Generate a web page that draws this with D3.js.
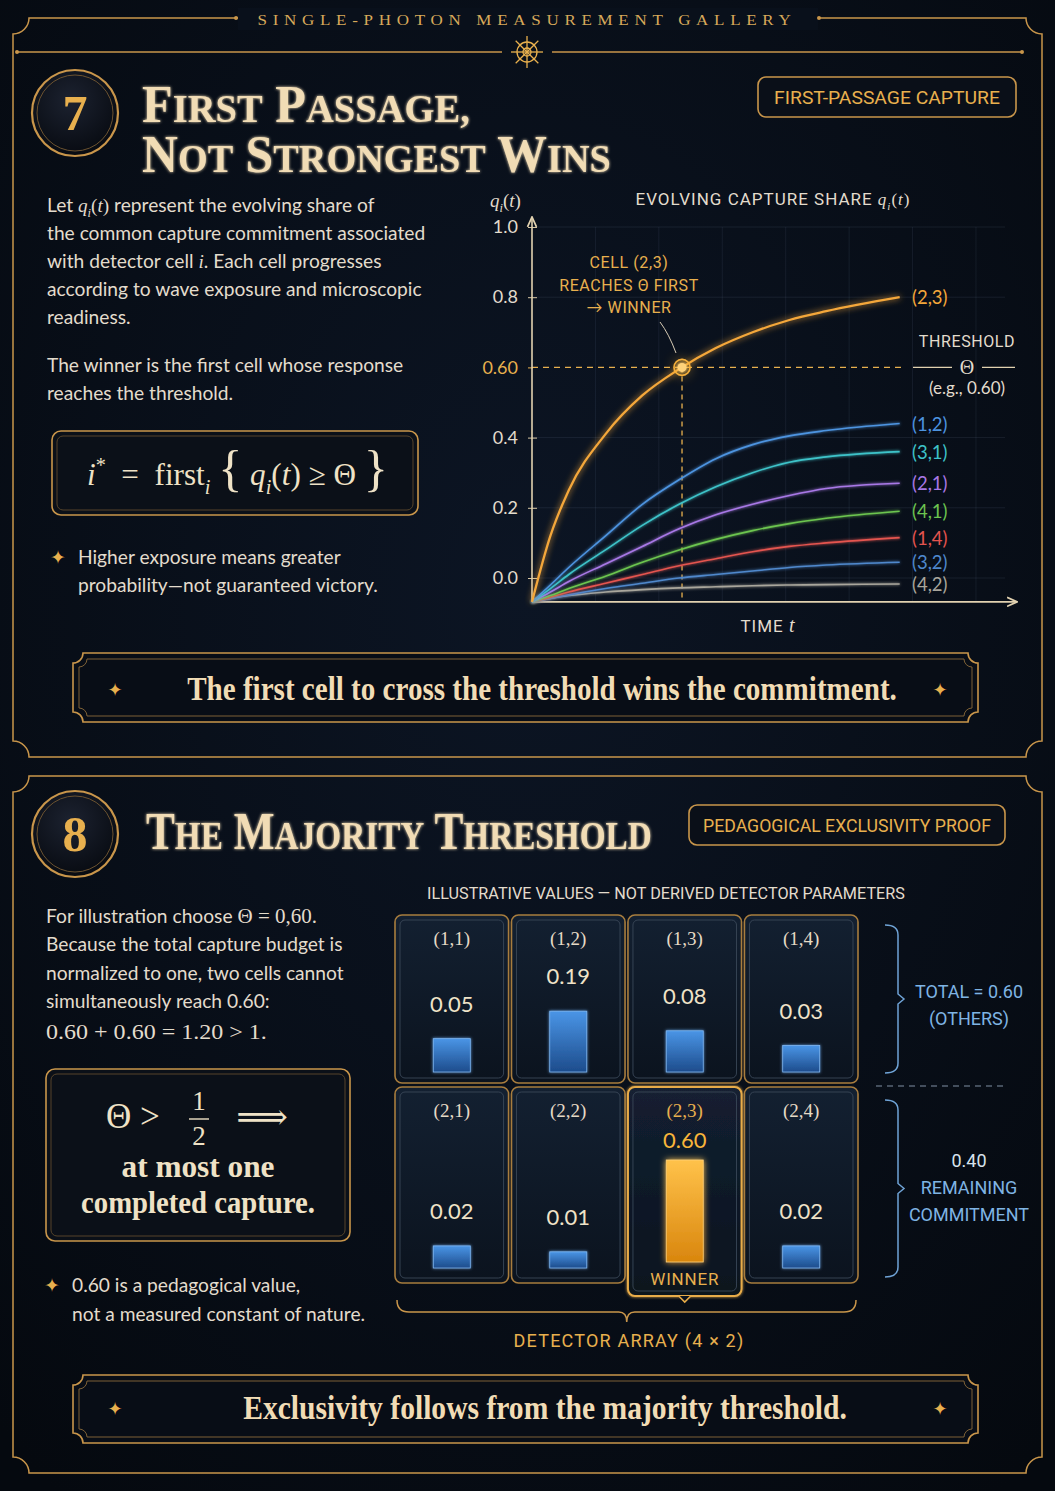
<!DOCTYPE html>
<html>
<head>
<meta charset="utf-8">
<script src="https://cdn.jsdelivr.net/npm/d3@7"></script>
<style>
  html, body { margin: 0; padding: 0; background: #060b14; }
  svg { display: block; }
</style>
</head>
<body>
<svg id="chart" width="1055" height="1491"></svg>
<script>
// ---- data ----
const timeSamples = [0, 0.5, 1, 2, 3, 4, 5, 6, 7, 8, 10];
const seriesNames = ['(2,3)', '(1,2)', '(3,1)', '(2,1)', '(4,1)', '(1,4)', '(3,2)', '(4,2)'];
const seriesColors = ['#f4a73a', '#4d94e0', '#3ec3c9', '#a878e6', '#6cc54f', '#e4544f', '#4f88cc', '#a9a69c'];
const share23 = [-0.068, 0.12, 0.25, 0.41, 0.52, 0.595, 0.655, 0.70, 0.735, 0.76, 0.80];
const share12 = [-0.068, -0.02, 0.03, 0.12, 0.21, 0.28, 0.34, 0.38, 0.405, 0.42, 0.44];
const share31 = [-0.068, -0.03, 0.01, 0.08, 0.15, 0.21, 0.26, 0.30, 0.33, 0.345, 0.36];
const share21 = [-0.068, -0.04, -0.01, 0.04, 0.09, 0.14, 0.18, 0.21, 0.235, 0.255, 0.27];
const share41 = [-0.068, -0.05, -0.03, 0.005, 0.045, 0.08, 0.11, 0.135, 0.155, 0.17, 0.19];
const share14 = [-0.068, -0.055, -0.04, -0.015, 0.01, 0.035, 0.055, 0.075, 0.09, 0.10, 0.115];
const share32 = [-0.068, -0.058, -0.048, -0.03, -0.015, 0.0, 0.01, 0.02, 0.03, 0.037, 0.045];
const share42 = [-0.068, -0.058, -0.05, -0.04, -0.033, -0.028, -0.025, -0.022, -0.02, -0.019, -0.017];
const seriesValues = [share23, share12, share31, share21, share41, share14, share32, share42];
const yTicks = [0, 0.2, 0.4, 0.8, 1.0];
const threshold = 0.60;
const crossTime = 4.08;

const cellRows = [1, 2];
const cellCols = [1, 2, 3, 4];
const cellValues = [[0.05, 0.19, 0.08, 0.03], [0.02, 0.01, 0.60, 0.02]];
const winnerCell = [2, 3];

// ---- styles ----
const SANS = 'Lato, "Open Sans", sans-serif';
const COND = 'Roboto, Lato, sans-serif';
const SERIF = '"Liberation Serif", "DejaVu Serif", serif';
const GOLD = '#c9964b';
const GOLD_TEXT = '#e8b04e';
const CREAM = '#f1dcb5';
const BODY = '#e3dccd';
const BLUE_TEXT = '#7fb4e4';

const svg = d3.select('#chart');
const defs = svg.append('defs');

function glow(id, sd) {
  const f = defs.append('filter').attr('id', id)
    .attr('x', '-50%').attr('y', '-50%').attr('width', '200%').attr('height', '200%');
  f.append('feGaussianBlur').attr('in', 'SourceGraphic').attr('stdDeviation', sd).attr('result', 'b');
  const m = f.append('feMerge');
  m.append('feMergeNode').attr('in', 'b');
  m.append('feMergeNode').attr('in', 'SourceGraphic');
}
glow('glowS', 1.6);
glow('glowM', 3);
glow('glowL', 6);

const bgGrad = defs.append('radialGradient').attr('id', 'bgGrad').attr('cx', '50%').attr('cy', '40%').attr('r', '75%');
bgGrad.append('stop').attr('offset', '0%').attr('stop-color', '#0c1524');
bgGrad.append('stop').attr('offset', '100%').attr('stop-color', '#05090f');

const cellGrad = defs.append('linearGradient').attr('id', 'cellGrad').attr('x1', 0).attr('y1', 0).attr('x2', 0).attr('y2', 1);
cellGrad.append('stop').attr('offset', '0%').attr('stop-color', '#132031');
cellGrad.append('stop').attr('offset', '100%').attr('stop-color', '#0b131e');

const blueGrad = defs.append('linearGradient').attr('id', 'blueGrad').attr('x1', 0).attr('y1', 0).attr('x2', 0).attr('y2', 1);
blueGrad.append('stop').attr('offset', '0%').attr('stop-color', '#4a95e6');
blueGrad.append('stop').attr('offset', '100%').attr('stop-color', '#1d4c8c');

const goldGrad = defs.append('linearGradient').attr('id', 'goldGrad').attr('x1', 0).attr('y1', 0).attr('x2', 0).attr('y2', 1);
goldGrad.append('stop').attr('offset', '0%').attr('stop-color', '#ffc24a');
goldGrad.append('stop').attr('offset', '100%').attr('stop-color', '#d9860e');

const discGrad = defs.append('radialGradient').attr('id', 'discGrad').attr('cx', '45%').attr('cy', '35%').attr('r', '70%');
discGrad.append('stop').attr('offset', '0%').attr('stop-color', '#1c2230');
discGrad.append('stop').attr('offset', '100%').attr('stop-color', '#06090f');

defs.append('marker').attr('id', 'arrow').attr('viewBox', '0 0 10 10').attr('refX', 8).attr('refY', 5)
  .attr('markerWidth', 7).attr('markerHeight', 7).attr('orient', 'auto-start-reverse')
  .append('path').attr('d', 'M0,1 L9,5 L0,9').attr('fill', 'none').attr('stroke', '#e2d2b0').attr('stroke-width', 1.5);

svg.append('rect').attr('width', 1055).attr('height', 1491).attr('fill', 'url(#bgGrad)');

// ---- helpers ----
function notchedRect(x0, y0, x1, y1, r) {
  return `M${x0 + r},${y0} H${x1 - r} A${r},${r} 0 0 0 ${x1},${y0 + r} V${y1 - r} ` +
    `A${r},${r} 0 0 0 ${x1 - r},${y1} H${x0 + r} A${r},${r} 0 0 0 ${x0},${y1 - r} V${y0 + r} ` +
    `A${r},${r} 0 0 0 ${x0 + r},${y0} Z`;
}

// squeeze a text to a given width with a horizontal scale, so its box stays true
function fit(t, x, y, width) {
  t.attr('x', 0).attr('y', 0);
  const natural = t.node().getComputedTextLength() || width;
  t.attr('transform', `translate(${x},${y}) scale(${width / natural},1)`);
  return t;
}

function rich(g, x, y, segs, opts) {
  const t = g.append('text').attr('x', x).attr('y', y)
    .attr('font-family', opts.family || SANS).attr('font-size', opts.size)
    .attr('fill', opts.fill || BODY).attr('text-anchor', opts.anchor || 'start')
    .attr('font-weight', opts.weight || 400)
    .style('white-space', 'pre');
  if (opts.spacing) t.attr('letter-spacing', opts.spacing);
  let shift = 0;
  segs.forEach((s) => {
    const seg = typeof s === 'string' ? { t: s } : s;
    const sp = t.append('tspan').text(seg.t);
    const want = seg.sub ? opts.size * 0.28 : seg.sup ? -opts.size * 0.42 : 0;
    if (want !== shift) { sp.attr('dy', want - shift); shift = want; }
    if (seg.m) sp.attr('font-family', SERIF).attr('font-style', 'italic');
    if (seg.serif) sp.attr('font-family', SERIF);
    if (seg.sub || seg.sup) sp.attr('font-size', opts.size * 0.65);
    if (seg.size) sp.attr('font-size', seg.size);
    if (seg.fill) sp.attr('fill', seg.fill);
  });
  if (opts.width) fit(t, x, y, opts.width);
  return t;
}

function smallCaps(g, words, x, y, big, small, width) {
  const t = g.append('text')
    .attr('font-family', SERIF).attr('font-weight', 700).attr('fill', CREAM)
    .style('white-space', 'pre')
    .attr('filter', 'url(#glowS)');
  words.split(' ').forEach((w, i) => {
    t.append('tspan').attr('font-size', big).text((i ? ' ' : '') + w[0]);
    if (w.length > 1) t.append('tspan').attr('font-size', small).text(w.slice(1).toUpperCase());
  });
  fit(t, x, y, width);
}

function numberDisc(cx, cy, label) {
  const g = svg.append('g');
  g.append('circle').attr('cx', cx).attr('cy', cy).attr('r', 43).attr('fill', 'url(#discGrad)')
    .attr('stroke', GOLD).attr('stroke-width', 2.2);
  g.append('circle').attr('cx', cx).attr('cy', cy).attr('r', 38).attr('fill', 'none')
    .attr('stroke', '#6b5230').attr('stroke-width', 1);
  g.append('text').attr('x', cx).attr('y', cy + 17).attr('text-anchor', 'middle')
    .attr('font-family', SERIF).attr('font-weight', 700).attr('font-size', 50)
    .attr('fill', GOLD_TEXT).text(label);
}

function badge(x, y, w, h, label, tw) {
  svg.append('rect').attr('x', x).attr('y', y).attr('width', w).attr('height', h).attr('rx', 8)
    .attr('fill', '#0a0f18').attr('stroke', GOLD).attr('stroke-width', 1.6);
  const t = svg.append('text').attr('text-anchor', 'middle')
    .attr('font-family', COND).attr('font-size', 19).attr('fill', GOLD_TEXT).text(label);
  fit(t, x + w / 2, y + h / 2 + 7, tw);
}

function mathBox(x, y, w, h) {
  svg.append('rect').attr('x', x).attr('y', y).attr('width', w).attr('height', h).attr('rx', 9)
    .attr('fill', '#0b1018').attr('stroke', GOLD).attr('stroke-width', 1.6);
  svg.append('rect').attr('x', x + 5).attr('y', y + 5).attr('width', w - 10).attr('height', h - 10).attr('rx', 6)
    .attr('fill', 'none').attr('stroke', '#5e4a2c').attr('stroke-width', 0.9);
}

function star(x, y, size) {
  svg.append('text').attr('x', x).attr('y', y).attr('text-anchor', 'middle')
    .attr('dominant-baseline', 'central').attr('font-family', '"DejaVu Sans", sans-serif')
    .attr('font-size', size).attr('fill', GOLD_TEXT).text('\u2726');
}

function banner(x0, y0, x1, y1, label, cx, cy, tw) {
  svg.append('path').attr('d', notchedRect(x0, y0, x1, y1, 10)).attr('fill', '#080d16')
    .attr('stroke', GOLD).attr('stroke-width', 1.6);
  svg.append('path').attr('d', notchedRect(x0 + 6, y0 + 6, x1 - 6, y1 - 6, 8)).attr('fill', 'none')
    .attr('stroke', '#8a6a3a').attr('stroke-width', 0.9);
  const t = svg.append('text').attr('text-anchor', 'middle')
    .attr('font-family', SERIF).attr('font-size', 33).attr('font-weight', 700).attr('fill', CREAM)
    .text(label);
  fit(t, cx, cy + 11, tw);
  star(x0 + 42, cy, 18);
  star(x1 - 38, cy, 18);
}

// ---- frame ----
svg.append('path').attr('d', notchedRect(13, 18, 1042, 757, 16)).attr('fill', 'none')
  .attr('stroke', GOLD).attr('stroke-width', 1.5);
svg.append('path').attr('d', notchedRect(13, 776, 1042, 1473, 16)).attr('fill', 'none')
  .attr('stroke', GOLD).attr('stroke-width', 1.5);
svg.append('rect').attr('x', 238).attr('y', 8).attr('width', 580).attr('height', 22).attr('fill', '#09101b');
svg.append('circle').attr('cx', 236).attr('cy', 18).attr('r', 2).attr('fill', GOLD);
svg.append('circle').attr('cx', 819).attr('cy', 18).attr('r', 2).attr('fill', GOLD);
fit(svg.append('text').attr('text-anchor', 'middle')
  .attr('font-family', SERIF).attr('font-size', 15).attr('fill', '#d7a95a')
  .attr('letter-spacing', 5).text('SINGLE-PHOTON MEASUREMENT GALLERY'), 527, 25, 539);

svg.append('line').attr('x1', 17).attr('x2', 502).attr('y1', 52).attr('y2', 52).attr('stroke', GOLD).attr('stroke-width', 1.4);
svg.append('line').attr('x1', 552).attr('x2', 1022).attr('y1', 52).attr('y2', 52).attr('stroke', GOLD).attr('stroke-width', 1.4);
svg.append('circle').attr('cx', 17).attr('cy', 52).attr('r', 2).attr('fill', GOLD);
svg.append('circle').attr('cx', 1022).attr('cy', 52).attr('r', 2).attr('fill', GOLD);
const emb = svg.append('g').attr('transform', 'translate(527,52)').attr('stroke', GOLD_TEXT).attr('fill', 'none').attr('stroke-width', 1.3);
emb.append('circle').attr('r', 10);
emb.append('circle').attr('r', 4);
d3.range(8).forEach((k) => {
  const a = k * Math.PI / 4;
  emb.append('line').attr('x1', 0).attr('y1', 0).attr('x2', 16 * Math.cos(a)).attr('y2', 16 * Math.sin(a));
});

// ================= PANEL 7 =================
numberDisc(75, 113, '7');
smallCaps(svg, 'First Passage,', 142, 122, 52, 40, 328);
smallCaps(svg, 'Not Strongest Wins', 142, 172, 52, 40, 469);
badge(758, 77, 258, 40, 'FIRST-PASSAGE CAPTURE', 226);
mathBox(52, 431, 366, 84);

const p7 = svg.append('g');
const bodyLines7 = [
  ['Let ', { t: 'q', m: true }, { t: 'i', sub: true, m: true }, { t: '(', serif: true }, { t: 't', m: true }, { t: ')', serif: true }, ' represent the evolving share of'],
  ['the common capture commitment associated'],
  ['with detector cell ', { t: 'i', m: true }, '. Each cell progresses'],
  ['according to wave exposure and microscopic'],
  ['readiness.']
];
bodyLines7.forEach((segs, i) => rich(p7, 47, 212 + i * 28, segs, { size: 19.2 }));
['The winner is the first cell whose response', 'reaches the threshold.']
  .forEach((l, i) => rich(p7, 47, 372 + i * 28, [l], { size: 19.2 }));

rich(p7, 87, 485, [
  { t: 'i', m: true }, { t: '*', sup: true }, '  =  first', { t: 'i', sub: true, m: true }, ' ',
  { t: '{', size: 50 }, ' ', { t: 'q', m: true }, { t: 'i', sub: true, m: true }, '(', { t: 't', m: true },
  ')', ' \u2265 \u0398 ', { t: '}', size: 50 }
], { size: 31, family: SERIF, fill: '#efe2c6', width: 301 });

star(58, 557, 19);
['Higher exposure means greater', 'probability\u2014not guaranteed victory.']
  .forEach((l, i) => rich(p7, 78, 564 + i * 28, [l], { size: 19.2 }));

// ---- first-passage chart ----
const x = d3.scaleLinear().domain([0, 13]).range([532, 1010]);
const y = d3.scaleLinear().domain([0, 1]).range([578, 227]);
const yFloor = -0.068;
const chart = svg.append('g');

const gridT = d3.range(1, 8).map((k) => k * 1.725);
chart.selectAll('line.vg').data(gridT).join('line').attr('class', 'vg')
  .attr('x1', (d) => x(d)).attr('x2', (d) => x(d)).attr('y1', y(1.0)).attr('y2', y(yFloor))
  .attr('stroke', '#8aa0c0').attr('stroke-opacity', 0.1);
chart.selectAll('line.hg').data([0, 0.2, 0.4, 0.8, 1.0]).join('line').attr('class', 'hg')
  .attr('x1', x(0)).attr('x2', 1005).attr('y1', (d) => y(d)).attr('y2', (d) => y(d))
  .attr('stroke', '#8aa0c0').attr('stroke-opacity', 0.12);

const yAxis = d3.axisLeft(y).tickValues(yTicks).tickFormat(d3.format('.1f')).tickSize(5).tickPadding(10);
const ga = chart.append('g').attr('transform', `translate(${x(0) + 1},0)`).call(yAxis);
ga.select('.domain').remove();
ga.selectAll('text').attr('font-family', SANS).attr('font-size', 18).attr('fill', BODY);
ga.selectAll('line').attr('stroke', '#d9c8a5').attr('x2', -5).attr('x1', 4);

const gt = chart.append('g').attr('transform', `translate(${x(0) + 1},0)`)
  .call(d3.axisLeft(y).tickValues([threshold]).tickFormat(d3.format('.2f')).tickSize(5).tickPadding(10));
gt.select('.domain').remove();
gt.selectAll('text').attr('font-family', SANS).attr('font-size', 18).attr('fill', GOLD_TEXT);
gt.selectAll('line').attr('stroke', GOLD_TEXT);

// threshold guides
chart.append('line').attr('x1', x(0)).attr('x2', 902).attr('y1', y(threshold)).attr('y2', y(threshold))
  .attr('stroke', GOLD_TEXT).attr('stroke-width', 1.4).attr('stroke-dasharray', '6 5');
chart.append('line').attr('x1', x(crossTime)).attr('x2', x(crossTime)).attr('y1', y(threshold)).attr('y2', y(yFloor))
  .attr('stroke', GOLD_TEXT).attr('stroke-width', 1.3).attr('stroke-dasharray', '5 4');

// axes
chart.append('line').attr('x1', x(0)).attr('x2', x(0)).attr('y1', y(yFloor)).attr('y2', 218)
  .attr('stroke', '#e2d2b0').attr('stroke-width', 1.6).attr('marker-end', 'url(#arrow)');
chart.append('line').attr('x1', x(0)).attr('x2', 1016).attr('y1', y(yFloor)).attr('y2', y(yFloor))
  .attr('stroke', '#e2d2b0').attr('stroke-width', 1.6).attr('marker-end', 'url(#arrow)');

const line = d3.line().x((d) => x(d.t)).y((d) => y(d.v)).curve(d3.curveMonotoneX);
const series = seriesNames.map((name, i) => ({
  name, color: seriesColors[i],
  points: timeSamples.map((t, j) => ({ t, v: seriesValues[i][j] }))
}));
chart.selectAll('path.curve').data(series.slice().reverse()).join('path').attr('class', 'curve')
  .attr('d', (d) => line(d.points)).attr('fill', 'none').attr('stroke', (d) => d.color)
  .attr('stroke-width', (d) => (d.name === '(2,3)' ? 2.3 : 1.6))
  .attr('filter', (d) => (d.name === '(2,3)' ? 'url(#glowM)' : 'url(#glowS)'));
chart.selectAll('text.slabel').data(series).join('text').attr('class', 'slabel')
  .attr('x', 912).attr('y', (d) => y(d.points[d.points.length - 1].v) + 7)
  .attr('font-family', SANS).attr('font-size', 18.5).attr('fill', (d) => d.color)
  .text((d) => d.name);

// crossing marker
chart.append('circle').attr('cx', x(crossTime)).attr('cy', y(threshold)).attr('r', 9)
  .attr('fill', '#ffb52e').attr('opacity', 0.35).attr('filter', 'url(#glowL)');
chart.append('circle').attr('cx', x(crossTime)).attr('cy', y(threshold)).attr('r', 8)
  .attr('fill', 'none').attr('stroke', '#f6b03c').attr('stroke-width', 1.6);
chart.append('circle').attr('cx', x(crossTime)).attr('cy', y(threshold)).attr('r', 4.5)
  .attr('fill', '#ffd27a').attr('filter', 'url(#glowS)');

// annotations
['CELL (2,3)', 'REACHES \u0398 FIRST', '\u2192 WINNER'].forEach((l, i) => {
  chart.append('text').attr('x', 629).attr('y', 268 + i * 22.5).attr('text-anchor', 'middle')
    .attr('font-family', COND).attr('font-size', 16).attr('letter-spacing', 0.6).attr('fill', GOLD_TEXT).text(l);
});
chart.append('path').attr('d', 'M660,322 Q669,334 676,353').attr('fill', 'none')
  .attr('stroke', '#d8ccb5').attr('stroke-width', 1);

chart.append('text').attr('x', 967).attr('y', 347).attr('text-anchor', 'middle')
  .attr('font-family', COND).attr('font-size', 16).attr('letter-spacing', 0.6).attr('fill', BODY).text('THRESHOLD');
chart.append('line').attr('x1', 913).attr('x2', 952).attr('y1', y(threshold)).attr('y2', y(threshold))
  .attr('stroke', '#e2d2b0').attr('stroke-width', 1.2);
chart.append('line').attr('x1', 982).attr('x2', 1015).attr('y1', y(threshold)).attr('y2', y(threshold))
  .attr('stroke', '#e2d2b0').attr('stroke-width', 1.2);
chart.append('text').attr('x', 967).attr('y', y(threshold) + 7).attr('text-anchor', 'middle')
  .attr('font-family', SERIF).attr('font-size', 20).attr('fill', BODY).text('\u0398');
chart.append('text').attr('x', 967).attr('y', 394).attr('text-anchor', 'middle')
  .attr('font-family', SANS).attr('font-size', 17).attr('fill', BODY).text('(e.g., 0.60)');

rich(chart, 773, 205, ['EVOLVING CAPTURE SHARE ', { t: 'q', m: true }, { t: 'i', sub: true, m: true }, { t: '(', serif: true }, { t: 't', m: true }, { t: ')', serif: true }],
  { size: 17, family: COND, anchor: 'middle', spacing: 1, fill: BODY });
rich(chart, 490, 207, [{ t: 'q', m: true }, { t: 'i', sub: true, m: true }, '(', { t: 't', m: true }, ')'],
  { size: 19, family: SERIF, fill: BODY });
rich(chart, 768, 632, ['TIME ', { t: 't', m: true, size: 20 }], { size: 17, family: COND, anchor: 'middle', spacing: 1, fill: BODY });

banner(73, 653, 978, 722, 'The first cell to cross the threshold wins the commitment.', 542, 689, 710);

// ================= PANEL 8 =================
numberDisc(75, 834, '8');
smallCaps(svg, 'The Majority Threshold', 146, 849, 52, 40, 506);
badge(689, 805, 316, 40, 'PEDAGOGICAL EXCLUSIVITY PROOF', 288);
mathBox(46, 1069, 304, 172);

const p8 = svg.append('g');
rich(p8, 46, 923, ['For illustration choose ', { t: '\u0398 = 0,60.', serif: true, size: 21 }], { size: 19.2 });
['Because the total capture budget is', 'normalized to one, two cells cannot', 'simultaneously reach 0.60:']
  .forEach((l, i) => rich(p8, 46, 951 + i * 28.5, [l], { size: 19.2 }));
rich(p8, 46, 1039, ['0.60 + 0.60 = 1.20 > 1.'], { size: 22, family: SERIF, width: 221 });

rich(p8, 106, 1128, ['\u0398 >'], { size: 35, family: SERIF, fill: '#efe2c6' });
p8.append('text').attr('x', 199).attr('y', 1110).attr('text-anchor', 'middle').attr('font-family', SERIF)
  .attr('font-size', 27).attr('fill', '#efe2c6').text('1');
p8.append('line').attr('x1', 189).attr('x2', 209).attr('y1', 1119).attr('y2', 1119).attr('stroke', '#efe2c6').attr('stroke-width', 1.4);
p8.append('text').attr('x', 199).attr('y', 1145).attr('text-anchor', 'middle').attr('font-family', SERIF)
  .attr('font-size', 27).attr('fill', '#efe2c6').text('2');
p8.append('text').attr('x', 262).attr('y', 1129).attr('text-anchor', 'middle').attr('font-family', '"DejaVu Serif", serif')
  .attr('font-size', 36).attr('fill', '#efe2c6').text('\u27F9');
rich(p8, 198, 1177, ['at most one'], { size: 31, family: SERIF, weight: 700, anchor: 'middle', fill: '#efe2c6', width: 153 });
rich(p8, 198, 1213, ['completed capture.'], { size: 31, family: SERIF, weight: 700, anchor: 'middle', fill: '#efe2c6', width: 234 });

star(52, 1285, 19);
['0.60 is a pedagogical value,', 'not a measured constant of nature.']
  .forEach((l, i) => rich(p8, 72, 1292 + i * 28.5, [l], { size: 19.2 }));

// ---- detector array ----
rich(svg, 666, 899, ['ILLUSTRATIVE VALUES \u2014 NOT DERIVED DETECTOR PARAMETERS'],
  { size: 16, family: COND, anchor: 'middle', fill: BODY, width: 478 });

const rowLayout = { 1: { top: 915, bottom: 1083, base: 1072 }, 2: { top: 1087, bottom: 1283, base: 1268 } };
const xCell = d3.scaleBand().domain(cellCols).range([395, 858]).paddingInner(0.025);
const barH = d3.scalePow().exponent(0.45).domain([0, 0.6]).range([0, 102]);
const barW = 37;
const cells = [];
cellRows.forEach((r, ri) => cellCols.forEach((c, ci) => cells.push({ r, c, v: cellValues[ri][ci] })));
const isWin = (d) => d.r === winnerCell[0] && d.c === winnerCell[1];
const barTop = (d) => rowLayout[d.r].base - barH(d.v) - (isWin(d) ? 6 : 0);

const grid = svg.append('g');
const cg = grid.selectAll('g.cell').data(cells).join('g').attr('class', 'cell');
cg.append('rect').attr('x', (d) => xCell(d.c)).attr('y', (d) => rowLayout[d.r].top)
  .attr('width', xCell.bandwidth())
  .attr('height', (d) => (isWin(d) ? 1296 : rowLayout[d.r].bottom) - rowLayout[d.r].top)
  .attr('rx', 7).attr('fill', 'url(#cellGrad)')
  .attr('stroke', (d) => (isWin(d) ? '#e8ac48' : '#a87d3e'))
  .attr('stroke-width', (d) => (isWin(d) ? 2 : 1.6))
  .attr('filter', (d) => (isWin(d) ? 'url(#glowS)' : null));
cg.append('rect').attr('x', (d) => xCell(d.c) + 5).attr('y', (d) => rowLayout[d.r].top + 5)
  .attr('width', xCell.bandwidth() - 10)
  .attr('height', (d) => (isWin(d) ? 1296 : rowLayout[d.r].bottom) - rowLayout[d.r].top - 10)
  .attr('rx', 5).attr('fill', 'none').attr('stroke', '#3a4758').attr('stroke-width', 0.9);
cg.append('text').attr('x', (d) => xCell(d.c) + xCell.bandwidth() / 2).attr('y', (d) => rowLayout[d.r].top + 30)
  .attr('text-anchor', 'middle').attr('font-family', SERIF).attr('font-size', 19)
  .attr('fill', (d) => (isWin(d) ? GOLD_TEXT : '#e6dac6')).text((d) => `(${d.r},${d.c})`);
cg.append('rect').attr('x', (d) => xCell(d.c) + xCell.bandwidth() / 2 - barW / 2)
  .attr('y', barTop)
  .attr('width', barW).attr('height', (d) => barH(d.v))
  .attr('fill', (d) => (isWin(d) ? 'url(#goldGrad)' : 'url(#blueGrad)'))
  .attr('stroke', (d) => (isWin(d) ? '#ffd27a' : '#7fb6f0')).attr('stroke-width', 0.8)
  .attr('filter', (d) => (isWin(d) ? 'url(#glowM)' : 'url(#glowS)'));
cg.append('text').attr('x', (d) => xCell(d.c) + xCell.bandwidth() / 2)
  .attr('y', (d) => barTop(d) - (isWin(d) ? 12 : 27))
  .attr('text-anchor', 'middle').attr('font-family', SANS).attr('font-size', 22)
  .attr('fill', (d) => (isWin(d) ? '#f7b53a' : '#efe3c8')).text((d) => d3.format('.2f')(d.v));

const win = cells.find(isWin);
const wx = xCell(win.c) + xCell.bandwidth() / 2;
grid.append('path').attr('d', `M${wx - 6},1296 L${wx},1302 L${wx + 6},1296`).attr('fill', '#0b131e')
  .attr('stroke', '#e8ac48').attr('stroke-width', 1.6);
grid.append('text').attr('x', wx).attr('y', 1285).attr('text-anchor', 'middle').attr('font-family', COND)
  .attr('font-size', 17).attr('letter-spacing', 0.8).attr('fill', GOLD_TEXT).text('WINNER');

// brace under the array
const gx0 = xCell(cellCols[0]);
const gx1 = xCell(cellCols[cellCols.length - 1]) + xCell.bandwidth();
const bx = wx - 58;
grid.append('path')
  .attr('d', `M${gx0 + 2},1300 Q${gx0 + 2},1312 ${gx0 + 14},1312 H${bx - 8} Q${bx},1312 ${bx},1322 Q${bx},1312 ${bx + 8},1312 H${gx1 - 14} Q${gx1 - 2},1312 ${gx1 - 2},1300`)
  .attr('fill', 'none').attr('stroke', GOLD).attr('stroke-width', 1.5);
grid.append('text').attr('x', 629).attr('y', 1347).attr('text-anchor', 'middle').attr('font-family', COND)
  .attr('font-size', 18).attr('letter-spacing', 1.2).attr('fill', GOLD_TEXT).text('DETECTOR ARRAY (4 \u00d7 2)');

// right-side brackets
function bracket(yTop, yBot) {
  const m = (yTop + yBot) / 2;
  grid.append('path')
    .attr('d', `M885,${yTop} Q898,${yTop} 898,${yTop + 10} V${m - 5} L904,${m} L898,${m + 5} V${yBot - 10} Q898,${yBot} 885,${yBot}`)
    .attr('fill', 'none').attr('stroke', '#6fa3d6').attr('stroke-width', 1.5);
}
bracket(925, 1073);
bracket(1100, 1277);
grid.append('line').attr('x1', 876).attr('x2', 1006).attr('y1', 1086).attr('y2', 1086)
  .attr('stroke', '#8090a4').attr('stroke-width', 1.1).attr('stroke-dasharray', '6 5');
[['TOTAL = 0.60', 998, BLUE_TEXT], ['(OTHERS)', 1025, BLUE_TEXT], ['0.40', 1167, '#d7e3ee'],
  ['REMAINING', 1194, BLUE_TEXT], ['COMMITMENT', 1221, BLUE_TEXT]].forEach(([l, yy, col]) => {
  grid.append('text').attr('x', 969).attr('y', yy).attr('text-anchor', 'middle').attr('font-family', COND)
    .attr('font-size', 18).attr('fill', col).text(l);
});

banner(73, 1375, 978, 1443, 'Exclusivity follows from the majority threshold.', 545, 1408, 604);
</script>
</body>
</html>
